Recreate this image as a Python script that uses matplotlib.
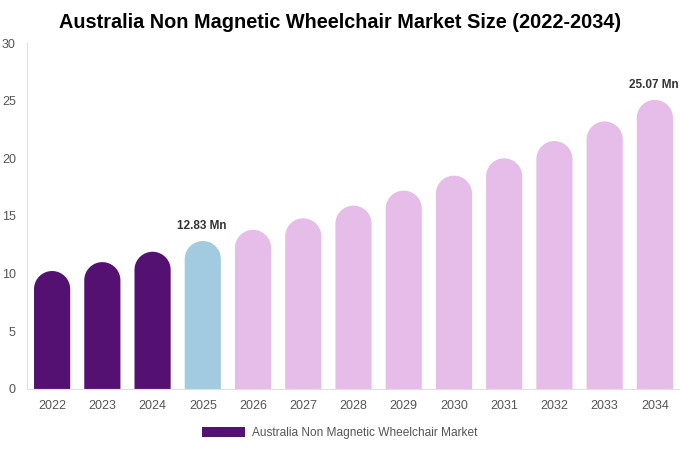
import numpy as np
import matplotlib.pyplot as plt
from matplotlib.patches import Polygon, Patch

plt.rcParams['font.family'] = ['Liberation Sans', 'DejaVu Sans']

years = ['2022', '2023', '2024', '2025', '2026', '2027', '2028',
         '2029', '2030', '2031', '2032', '2033', '2034']
values = [10.23, 11.0, 11.9, 12.83, 13.8, 14.8, 15.9,
          17.2, 18.5, 20.0, 21.5, 23.2, 25.07]
labels = {3: '12.83 Mn', 12: '25.07 Mn'}

c_hist = '#541172'
c_base = '#a3cbe0'
c_fore = '#e6bde9'

fig = plt.figure(figsize=(6.8, 4.5), dpi=100)
ax = fig.add_axes([0.0397, 0.1356, 0.9603, 0.7688])
ax.set_xlim(-0.5, len(years) - 0.5)
ax.set_ylim(0, 30)

# width in x data units and matching radius in y units so tops look round
w = 0.72
rx = w / 2
px_x = ax.bbox.width / (len(years))
px_y = ax.bbox.height / 30
ry = rx * px_x / px_y

for i, v in enumerate(values):
    col = c_hist if i < 3 else (c_base if i == 3 else c_fore)
    t = np.linspace(0, np.pi, 40)
    cy = v - ry
    arc_x = i + rx * np.cos(t)
    arc_y = cy + ry * np.sin(t)
    xs = np.concatenate([[i + rx], arc_x, [i - rx]])
    ys = np.concatenate([[0], arc_y, [0]])
    ax.add_patch(Polygon(np.column_stack([xs, ys]), closed=True,
                         facecolor=col, edgecolor='none'))
    if i in labels:
        ax.text(i - 0.03, v + 1.3, labels[i], ha='center', va='center',
                fontsize=8.5, fontweight='bold', color='#333333')

ax.set_xticks(range(len(years)))
ax.set_xticklabels(years)
ax.set_yticks(range(0, 31, 5))
ax.tick_params(length=0, labelsize=9, colors='#555555', pad=8)
ax.tick_params(axis='y', pad=8)
for s in ['top', 'right']:
    ax.spines[s].set_visible(False)
ax.spines['left'].set_color('#e0e0e0')
ax.spines['bottom'].set_color('#e0e0e0')

fig.suptitle('Australia Non Magnetic Wheelchair Market Size (2022-2034)',
             x=0.5, y=0.97, fontsize=14.3, fontweight='bold')

fig.legend(handles=[Patch(facecolor=c_hist, label='Australia Non Magnetic Wheelchair Market')],
           loc='center', bbox_to_anchor=(0.5, 0.038), frameon=False,
           fontsize=8.6, labelcolor='#555555', handlelength=3.6, handleheight=0.95,
           handletextpad=0.6)

fig.savefig('out.png', dpi=100)
